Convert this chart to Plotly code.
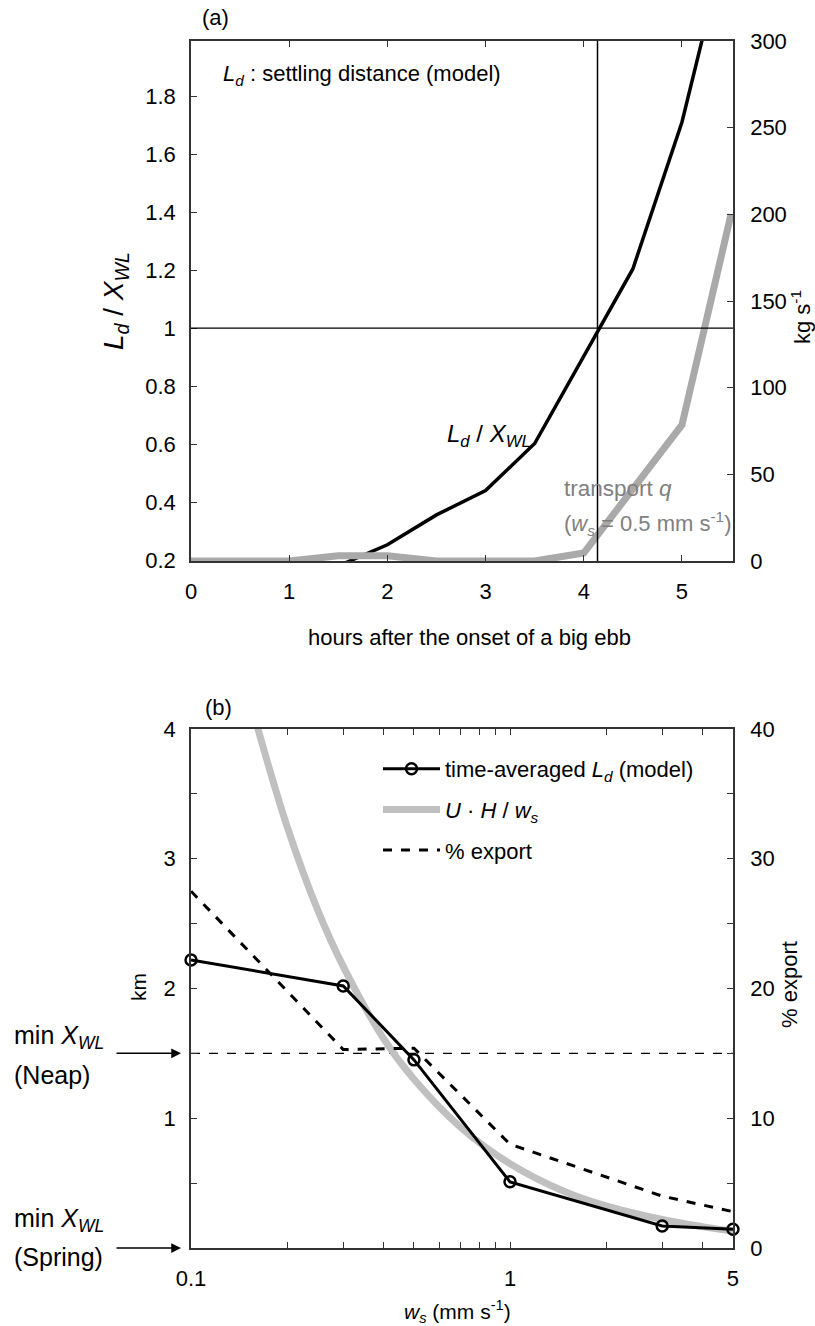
import plotly.graph_objects as go

# ---------------- panel (a): settling distance vs. time into the ebb ----------------
hours_ld = [1.5, 2.0, 2.5, 3.0, 3.5, 4.0, 4.5, 5.0, 5.5]
ld_over_xwl = [0.18, 0.253, 0.356, 0.44, 0.602, 0.9, 1.204, 1.71, 2.4]

hours_q = [0, 0.5, 1.0, 1.5, 2.0, 2.5, 3.0, 3.5, 4.0, 5.0, 5.5]
transport_q = [0, 0, 0, 3, 3, 0, 0, 0, 4.6, 78.5, 200]

ratio_one = 1.0          # Ld / XWL = 1
crossing_hour = 4.14     # hour at which Ld reaches XWL

# ---------------- panel (b): dependence on settling velocity ----------------
ws_model = [0.1, 0.3, 0.5, 1.0, 3.0, 5.0]
ld_avg_km = [2.22, 2.02, 1.45, 0.51, 0.17, 0.145]

ws_scale = [0.16, 0.2, 0.25, 0.3, 0.4, 0.5, 0.7, 1.0, 1.5, 2.0, 3.0, 4.0, 5.0]
uh_over_ws_km = [4.05, 3.25, 2.6, 2.17, 1.62, 1.3, 0.93, 0.65, 0.43, 0.325, 0.22, 0.165, 0.13]

ws_export = [0.1, 0.3, 0.5, 1.0, 3.0, 5.0]
pct_export = [27.5, 15.3, 15.4, 8.0, 4.0, 2.8]

min_xwl_neap_km = 1.5
min_xwl_spring_km = 0.0

ws_ticks = [0.1, 0.2, 0.3, 0.4, 0.5, 0.6, 0.7, 0.8, 0.9, 1, 2, 3, 4, 5]
ws_ticktext = ["0.1"] + [""] * 8 + ["1", "", "", "", "5"]

FONT = "Liberation Sans, Arial, Helvetica, sans-serif"
AXC = "#333333"
W, H = 815, 1326
X0, X1 = 191 / W, 733 / W
TOP_DOM = [1 - 561 / H, 1 - 41 / H]
BOT_DOM = [1 - 1248 / H, 1 - 729 / H]

fig = go.Figure()

# panel (a) traces
fig.add_trace(go.Scatter(x=hours_ld, y=ld_over_xwl, mode="lines",
                         line=dict(color="black", width=3.5),
                         xaxis="x", yaxis="y", showlegend=False))
fig.add_trace(go.Scatter(x=hours_q, y=transport_q, mode="lines",
                         line=dict(color="#a9a9a9", width=7),
                         xaxis="x", yaxis="y2", showlegend=False))

# panel (b) traces
fig.add_trace(go.Scatter(x=ws_scale, y=uh_over_ws_km, mode="lines",
                         name="<i>U</i> · <i>H</i> / <i>w<sub>s</sub></i>",
                         line=dict(color="#c0c0c0", width=7, shape="spline"),
                         xaxis="x2", yaxis="y3", legendgroup="b", legendrank=2))
fig.add_trace(go.Scatter(x=ws_model, y=ld_avg_km, mode="lines+markers",
                         name="time-averaged <i>L<sub>d</sub></i> (model)",
                         line=dict(color="black", width=3),
                         marker=dict(symbol="circle-open", size=11, color="black",
                                     line=dict(width=2.5, color="black")),
                         cliponaxis=False,
                         xaxis="x2", yaxis="y3", legendgroup="a", legendrank=1))
fig.add_trace(go.Scatter(x=ws_export, y=pct_export, mode="lines",
                         name="% export",
                         line=dict(color="black", width=3, dash="dash"),
                         xaxis="x2", yaxis="y4", legendgroup="c", legendrank=3))

tickfont = dict(family=FONT, size=22, color="black")
common = dict(showline=True, linecolor=AXC, linewidth=1.5, ticks="inside", ticklen=6,
              tickcolor=AXC, tickwidth=1.2, showgrid=False, zeroline=False,
              tickfont=tickfont)

fig.update_layout(
    width=W, height=H,
    margin=dict(l=0, r=0, t=0, b=0, autoexpand=False),
    paper_bgcolor="white", plot_bgcolor="white",
    font=dict(family=FONT, size=22, color="black"),
    xaxis=dict(domain=[X0, X1], range=[0, 5.52], tickvals=[0, 1, 2, 3, 4, 5],
               anchor="y", mirror="ticks", ticklabelstandoff=10, **common),
    yaxis=dict(domain=TOP_DOM, range=[0.197, 1.99],
               tickvals=[0.2, 0.4, 0.6, 0.8, 1.0, 1.2, 1.4, 1.6, 1.8],
               ticktext=["0.2", "0.4", "0.6", "0.8", "1", "1.2", "1.4", "1.6", "1.8"],
               anchor="x", ticklabelstandoff=9, **common),
    yaxis2=dict(range=[0, 300], tickvals=[0, 50, 100, 150, 200, 250, 300],
                overlaying="y", side="right", anchor="x", ticklabelstandoff=11, **common),
    xaxis2=dict(domain=[X0, X1], type="log", range=[-1.0001, 0.6991],
                tickvals=ws_ticks, ticktext=ws_ticktext,
                anchor="y3", mirror="ticks", ticklabelstandoff=10, **common),
    yaxis3=dict(domain=BOT_DOM, range=[0, 4],
                tickvals=[0, 0.5, 1, 1.5, 2, 2.5, 3, 3.5, 4],
                ticktext=["", "", "1", "", "2", "", "3", "", "4"],
                anchor="x2", ticklabelstandoff=9, **common),
    yaxis4=dict(range=[0, 40], tickvals=[0, 5, 10, 15, 20, 25, 30, 35, 40],
                ticktext=["0", "", "10", "", "20", "", "30", "", "40"],
                overlaying="y3", side="right", anchor="x2", ticklabelstandoff=11, **common),
    legend=dict(x=378 / W, y=1 - 748 / H, xanchor="left", yanchor="top",
                bgcolor="rgba(0,0,0,0)", borderwidth=0, itemwidth=57,
                font=dict(family=FONT, size=22, color="black"),
                tracegroupgap=9),
)

# reference lines in panel (a)
fig.add_shape(type="line", xref="x", yref="y", x0=0, x1=5.52, y0=ratio_one, y1=ratio_one,
              line=dict(color="black", width=1.3), layer="above")
fig.add_shape(type="line", xref="x", yref="paper", x0=crossing_hour, x1=crossing_hour,
              y0=TOP_DOM[0], y1=TOP_DOM[1], line=dict(color="black", width=1.5), layer="above")

# min XWL (neap) in panel (b)
fig.add_shape(type="line", xref="paper", yref="y3", x0=X0, x1=X1,
              y0=min_xwl_neap_km, y1=min_xwl_neap_km,
              line=dict(color="black", width=1.2, dash="dash"), layer="below")

def px(x):
    return x / W

def py(y):
    return 1 - y / H

ann = []
def text(x, y, s, size=22, color="black", xanchor="left", angle=0):
    ann.append(dict(x=px(x), y=py(y), xref="paper", yref="paper", text=s, showarrow=False,
                    xanchor=xanchor, yanchor="middle", textangle=angle,
                    font=dict(family=FONT, size=size, color=color)))

text(200, 18, "(a)", 22)
text(221, 75, "<i>L<sub>d</sub></i> : settling distance (model)", 22)
text(445, 436, "<i>L<sub>d</sub></i> / <i>X<sub>WL</sub></i>", 24)
text(562, 488, "transport <i>q</i>", 22.5, "#808080")
text(562, 524, "(<i>w<sub>s</sub></i> = 0.5 mm s<sup>-1</sup>)", 22, "#808080")
text(469, 637, "hours after the onset of a big ebb", 22, xanchor="center")
text(116, 301, "<i>L<sub>d</sub></i> / <i>X<sub>WL</sub></i>", 28, xanchor="center", angle=-90)
text(801, 317, "kg s<sup>-1</sup>", 22, xanchor="center", angle=-90)

text(203, 707, "(b)", 22)
text(138, 987, "km", 21, xanchor="center", angle=-90)
text(789, 985, "% export", 22, xanchor="center", angle=-90)
text(457, 1311, "<i>w<sub>s</sub></i> (mm s<sup>-1</sup>)", 21, xanchor="center")
text(12, 1037, "min <i>X<sub>WL</sub></i>", 25)
text(12, 1075, "(Neap)", 25)
text(12, 1220, "min <i>X<sub>WL</sub></i>", 25)
text(12, 1257, "(Spring)", 25)

for yv in (min_xwl_neap_km, min_xwl_spring_km):
    ann.append(dict(x=px(181), y=yv, xref="paper", yref="y3", ax=-66, ay=0,
                    axref="pixel", ayref="pixel", text="", showarrow=True,
                    arrowhead=2, arrowsize=1.3, arrowwidth=1.5, arrowcolor="black"))

fig.update_layout(annotations=ann)

fig.write_html("out.html")
